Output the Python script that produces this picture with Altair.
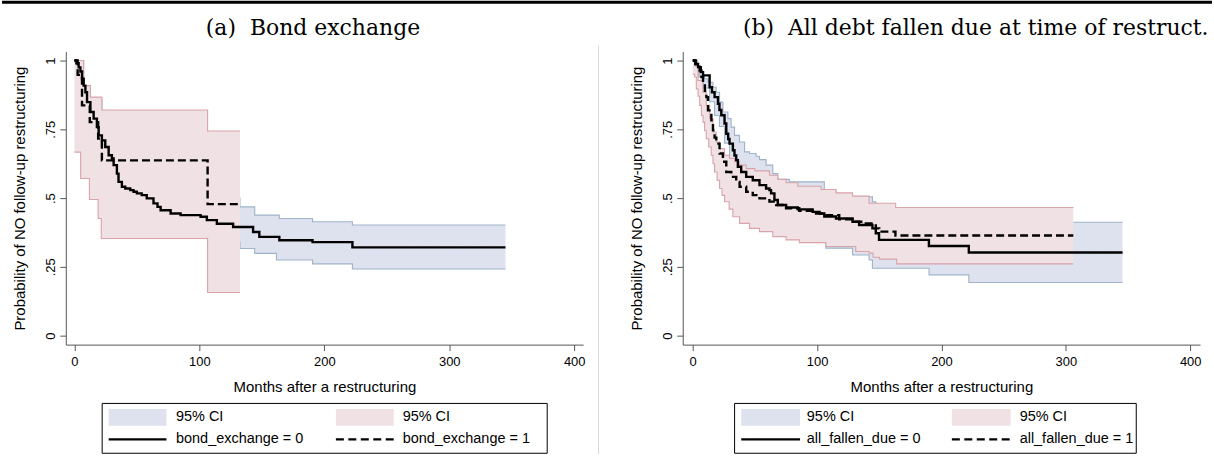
import altair as alt
import pandas as pd

# ---------------- Panel (a): bond exchange ----------------
# Kaplan-Meier estimates: step change points (months, survival)
A0_T = [0, 1.6, 3.4, 4.8, 6.1, 7.4, 8.8, 10.1, 12.8, 15.4, 18.0, 19.4, 22.0, 24.7, 27.4,
        30.0, 31.4, 34.0, 35.3, 38.0, 40.7, 44.7, 47.3, 50.0, 53.9, 57.9, 63.3, 66.5,
        69.0, 77.0, 85.0, 101.0, 106.0, 114.0, 127.0, 143.0, 148.0, 164.0, 190.6,
        222.5, 345.0]
A0_S = [1.0, 0.99, 0.975, 0.96, 0.934, 0.909, 0.885, 0.849, 0.813, 0.789, 0.758, 0.728,
        0.710, 0.686, 0.656, 0.644, 0.620, 0.589, 0.559, 0.541, 0.535, 0.529, 0.523,
        0.517, 0.511, 0.499, 0.481, 0.468, 0.456, 0.444, 0.438, 0.432, 0.420, 0.407,
        0.395, 0.377, 0.359, 0.347, 0.340, 0.321, 0.321]
A1_T = [0, 2.6, 6.1, 12.3, 19.0, 22.0, 106.6, 132.5]
A1_S = [1.0, 0.948, 0.837, 0.776, 0.716, 0.637, 0.478, 0.478]

# 95% confidence bands (lower / upper step functions)
A0_LO_T = [1.6, 6.1, 10.0, 15.0, 22.0, 30.0, 38.0, 55.0, 70.0, 106.6, 132.5, 144.3,
           161.7, 190.6, 222.5, 345.0]
A0_LO = [0.90, 0.82, 0.74, 0.66, 0.58, 0.50, 0.44, 0.41, 0.37, 0.34, 0.317, 0.299,
         0.275, 0.261, 0.242, 0.242]
A0_HI_T = [1.6, 7.4, 12.8, 22.0, 30.0, 40.0, 63.0, 85.0, 106.6, 132.5, 144.3, 164.0,
           190.6, 222.5, 345.0]
A0_HI = [1.0, 0.90, 0.86, 0.80, 0.74, 0.66, 0.58, 0.54, 0.50, 0.468, 0.438, 0.426,
         0.414, 0.402, 0.402]
A1_LO_T = [0, 5.0, 12.0, 19.0, 21.5, 106.6, 132.5]
A1_LO = [0.667, 0.571, 0.495, 0.426, 0.353, 0.157, 0.157]
A1_HI_T = [0, 7.4, 12.8, 22.0, 106.6, 132.5]
A1_HI = [1.0, 0.909, 0.867, 0.82, 0.744, 0.744]

# ---------------- Panel (b): all debt fallen due ----------------
B0_T = [0, 2.0, 4.3, 6.5, 8.3, 13.6, 15.5, 17.6, 20.3, 21.5, 23.0, 25.6, 27.0, 28.5,
        29.6, 32.3, 33.6, 35.0, 36.3, 39.0, 43.0, 48.3, 53.7, 59.0, 61.7, 63.0, 65.7,
        68.4, 75.1, 84.5, 96.4, 102.0, 105.8, 115.2, 128.5, 133.8, 144.5, 147.2, 149.8,
        189.9, 222.0, 345.6]
B0_S = [1.0, 0.988, 0.976, 0.958, 0.946, 0.903, 0.885, 0.867, 0.843, 0.82, 0.801, 0.771,
        0.734, 0.715, 0.698, 0.674, 0.655, 0.638, 0.614, 0.595, 0.577, 0.565, 0.547,
        0.535, 0.529, 0.517, 0.493, 0.475, 0.466, 0.459, 0.450, 0.444, 0.433, 0.426,
        0.414, 0.402, 0.390, 0.372, 0.348, 0.326, 0.302, 0.302]
B1_T = [0, 2.5, 5.6, 7.0, 8.3, 9.8, 11.0, 12.3, 15.0, 16.3, 17.6, 19.0, 21.6, 24.3, 27.0,
        31.0, 35.0, 37.7, 43.0, 48.3, 53.7, 61.7, 67.1, 75.1, 85.7, 96.4, 107.1, 117.8,
        128.5, 139.2, 147.2, 150.0, 163.0, 306.0]
B1_S = [1.0, 0.982, 0.964, 0.94, 0.915, 0.89, 0.867, 0.819, 0.783, 0.746, 0.72, 0.698,
        0.662, 0.632, 0.595, 0.577, 0.559, 0.541, 0.523, 0.511, 0.499, 0.487, 0.475,
        0.463, 0.454, 0.444, 0.438, 0.423, 0.414, 0.408, 0.390, 0.378, 0.364, 0.364]

B0_LO_T = [0, 2.0, 4.3, 8.3, 13.6, 17.6, 21.5, 25.6, 29.6, 33.6, 39.0, 48.3, 53.7, 63.0,
           68.4, 75.1, 85.0, 96.4, 107.0, 128.5, 141.8, 144.5, 190.0, 222.0, 345.6]
B0_LO = [1.0, 0.96, 0.94, 0.90, 0.85, 0.80, 0.76, 0.70, 0.64, 0.59, 0.55, 0.51, 0.49,
         0.45, 0.41, 0.39, 0.36, 0.34, 0.318, 0.293, 0.275, 0.245, 0.221, 0.193, 0.193]
B0_HI_T = [0, 4.0, 5.6, 9.6, 12.3, 16.3, 18.9, 21.6, 24.3, 28.3, 30.9, 33.6, 37.6, 41.7,
           45.7, 51.0, 53.7, 59.0, 64.4, 68.4, 77.7, 105.8, 115.2, 128.5, 144.5, 147.2,
           150.0, 190.0, 222.0, 345.6]
B0_HI = [1.0, 0.976, 0.946, 0.934, 0.921, 0.903, 0.885, 0.849, 0.813, 0.789, 0.758,
         0.728, 0.704, 0.668, 0.662, 0.652, 0.640, 0.620, 0.589, 0.568, 0.559, 0.528,
         0.515, 0.505, 0.487, 0.47, 0.45, 0.43, 0.412, 0.412]
B1_LO_T = [0, 1.6, 2.9, 4.3, 5.6, 7.0, 8.3, 9.6, 10.9, 12.9, 14.9, 16.3, 17.6, 19.6, 21.6,
           23.6, 25.6, 29.3, 32.3, 37.7, 45.7, 53.7, 64.4, 75.1, 85.7, 107.1, 131.1,
           141.8, 145.0, 150.0, 164.0, 306.0]
B1_LO = [0.95, 0.94, 0.897, 0.87, 0.837, 0.80, 0.776, 0.745, 0.716, 0.686, 0.656, 0.625,
         0.595, 0.565, 0.535, 0.51, 0.487, 0.46, 0.432, 0.408, 0.390, 0.378, 0.360,
         0.348, 0.338, 0.324, 0.306, 0.300, 0.285, 0.278, 0.261, 0.261]
B1_HI_T = [0, 1.6, 4.3, 8.3, 10.9, 13.6, 16.3, 18.9, 21.6, 25.6, 29.6, 33.6, 37.6, 43.0,
           50.0, 61.7, 68.4, 75.1, 84.5, 103.2, 115.2, 128.5, 141.8, 163.2, 306.0]
B1_HI = [1.0, 0.98, 0.928, 0.885, 0.837, 0.789, 0.740, 0.704, 0.680, 0.656, 0.644,
         0.632, 0.620, 0.607, 0.599, 0.583, 0.568, 0.556, 0.543, 0.531, 0.519, 0.507,
         0.481, 0.466, 0.466]

Y_TICKS = [0, 0.25, 0.5, 0.75, 1]
X_TICKS = [0, 100, 200, 300, 400]

BLUE_FILL, BLUE_EDGE = "#dde2ee", "#9fb3c9"
RED_FILL, RED_EDGE = "#f0e1e5", "#d8a3a9"
SANS = "Liberation Sans"
SERIF = "DejaVu Serif"
NBSP = "\u00a0"

PLOT_W, PLOT_H = 519, 294
Y_DOMAIN = [-0.0326, 1.0326]


def step_at(ts, vs, t):
    v = vs[0]
    for ti, vi in zip(ts, vs):
        if ti <= t:
            v = vi
        else:
            break
    return v


def band_frame(lo_t, lo_v, hi_t, hi_v):
    grid = sorted(set(lo_t) | set(hi_t))
    return pd.DataFrame({
        "t": grid,
        "lo": [step_at(lo_t, lo_v, t) for t in grid],
        "hi": [step_at(hi_t, hi_v, t) for t in grid],
    })


def one_row():
    return alt.Data(values=[{"k": 0}])


def panel(x_domain, km0, km1, ci0, ci1, group, title_text, title_cx, legend):
    xs = alt.Scale(domain=x_domain, nice=False, zero=False)
    ys = alt.Scale(domain=Y_DOMAIN, nice=False, zero=False)
    x_axis = alt.Axis(values=X_TICKS, grid=False, domainColor="#555555", tickColor="#555555",
                      tickSize=6, labelFont=SANS, labelFontSize=13, labelColor="black",
                      labelPadding=5, title="Months after a restructuring", titleFont=SANS,
                      titleFontSize=15, titleFontWeight="normal", titleColor="black",
                      titleY=42, titleBaseline="middle")
    y_axis = alt.Axis(values=Y_TICKS, grid=False, domainColor="#555555", tickColor="#555555",
                      tickSize=6, labelFont=SANS, labelFontSize=13, labelColor="black",
                      labelAngle=270, labelAlign="center", labelBaseline="bottom",
                      labelPadding=2,
                      labelExpr="datum.value == 0 ? '0' : datum.value == 1 ? '1' : "
                                "datum.value == 0.25 ? '.25' : datum.value == 0.5 ? '.5' : '.75'",
                      title="Probability of NO follow-up restructuring", titleFont=SANS,
                      titleFontSize=15, titleFontWeight="normal", titleColor="black",
                      titleAngle=270, titleX=-46, titleY=PLOT_H / 2, titleAlign="center",
                      titleBaseline="middle")
    X = alt.X("t:Q", scale=xs, axis=x_axis)

    layers = []
    for ci, fill, edge in ((ci0, BLUE_FILL, BLUE_EDGE), (ci1, RED_FILL, RED_EDGE)):
        bf = band_frame(*ci)
        layers.append(alt.Chart(bf).mark_area(interpolate="step-after", color=fill, opacity=1)
                      .encode(x=X, y=alt.Y("lo:Q", scale=ys, axis=y_axis), y2="hi:Q"))
        for col in ("lo", "hi"):
            layers.append(alt.Chart(bf).mark_line(interpolate="step-after", color=edge,
                                                  strokeWidth=1.1)
                          .encode(x=X, y=alt.Y(f"{col}:Q", scale=ys, axis=y_axis)))
    for (ts, ss), dash in ((km0, [1, 0]), (km1, [8, 4])):
        df = pd.DataFrame({"t": ts, "s": ss})
        layers.append(alt.Chart(df).mark_line(interpolate="step-after", color="black",
                                              strokeWidth=2.4, strokeDash=dash)
                      .encode(x=X, y=alt.Y("s:Q", scale=ys, axis=y_axis)))

    # legend block below the axis
    bx0, bx1, col2, sw0, sw1, tx1, tx2 = legend
    r1, r2 = 367, 389
    layers.append(alt.Chart(one_row()).mark_rect(fill="white", stroke="black", strokeWidth=1)
                  .encode(x=alt.value(bx0), x2=alt.value(bx1), y=alt.value(353), y2=alt.value(403)))
    for x0, fill in ((sw0, BLUE_FILL), (col2, RED_FILL)):
        layers.append(alt.Chart(one_row()).mark_rect(fill=fill)
                      .encode(x=alt.value(x0), x2=alt.value(x0 + sw1), y=alt.value(r1 - 8.5),
                              y2=alt.value(r1 + 8.5)))
    for x0, dash in ((sw0, [1, 0]), (col2, [8, 4.5])):
        layers.append(alt.Chart(one_row()).mark_rule(color="black", strokeWidth=2.2,
                                                     strokeDash=dash)
                      .encode(x=alt.value(x0), x2=alt.value(x0 + sw1), y=alt.value(r2)))
    for xx, yy, txt in ((tx1, r1, "95% CI"), (tx2, r1, "95% CI"),
                        (tx1, r2, f"{group} = 0"), (tx2, r2, f"{group} = 1")):
        layers.append(alt.Chart(one_row()).mark_text(align="left", baseline="middle", font=SANS,
                                                     fontSize=14.5, color="black")
                      .encode(x=alt.value(xx), y=alt.value(yy), text=alt.value(txt)))

    # panel caption
    layers.append(alt.Chart(one_row()).mark_text(align="center", baseline="middle", font=SERIF,
                                                 fontSize=22, color="black")
                  .encode(x=alt.value(title_cx), y=alt.value(-24), text=alt.value(title_text)))
    return layers


left_layers = panel([-6.9, 407.1], (A0_T, A0_S), (A1_T, A1_S),
                    (A0_LO_T, A0_LO, A0_HI_T, A0_HI), (A1_LO_T, A1_LO, A1_HI_T, A1_HI),
                    "bond_exchange", f"(a) {NBSP}Bond exchange", 248,
                    (36.5, 483, 271, 43, 58, 110.6, 338))
right_layers = panel([-8.0, 407.9], (B0_T, B0_S), (B1_T, B1_S),
                     (B0_LO_T, B0_LO, B0_HI_T, B0_HI), (B1_LO_T, B1_LO, B1_HI_T, B1_HI),
                     "all_fallen_due", f"(b) {NBSP}All debt fallen due at time of restruct.", 294,
                     (52, 455, 270, 58.7, 59, 124.5, 338))

# page rule across the top and the thin divider between the panels
left_layers.append(alt.Chart(one_row()).mark_rule(color="black", strokeWidth=3)
                   .encode(x=alt.value(-64), x2=alt.value(1150), y=alt.value(-49.5)))
left_layers.append(alt.Chart(one_row()).mark_rule(color="#d9d9d9", strokeWidth=1)
                   .encode(x=alt.value(534.5), y=alt.value(-6), y2=alt.value(404)))

left = alt.layer(*left_layers).properties(width=PLOT_W, height=PLOT_H)
right = alt.layer(*right_layers).properties(width=PLOT_W, height=PLOT_H)

chart = alt.hconcat(left, right, spacing=100, bounds="flush").properties(
    padding=0, background="white"
).configure_view(stroke=None)

chart.save("out.html", embed_options={"renderer": "svg", "actions": False})
